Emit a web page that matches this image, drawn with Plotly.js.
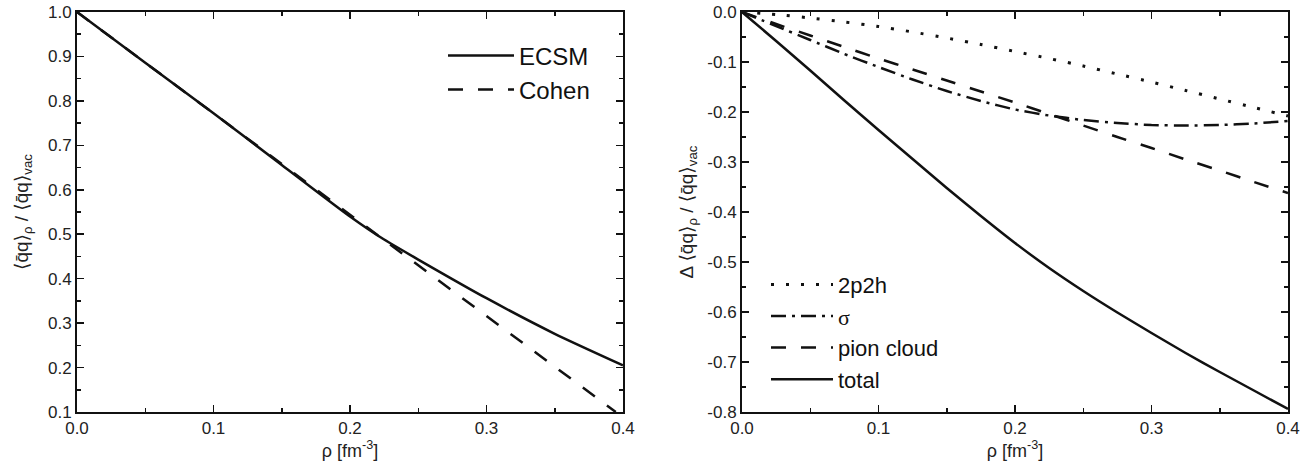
<!DOCTYPE html>
<html><head><meta charset="utf-8">
<script src="https://cdn.plot.ly/plotly-3.0.1.min.js"></script>
<style>html,body{margin:0;padding:0;background:#fff}#chart{width:1314px;height:470px}</style>
</head><body><div id="chart"></div>
<script>
// Left panel: ratio of in-medium to vacuum condensate
const rhoLeft = [0, 0.05, 0.1, 0.15, 0.2, 0.225, 0.25, 0.3, 0.35, 0.4];
const ecsm    = [1.0, 0.886, 0.772, 0.656, 0.54, 0.488, 0.443, 0.356, 0.276, 0.205];
const rhoCohen = [0, 0.1, 0.2, 0.3, 0.3947];
const cohen    = [1.0, 0.772, 0.544, 0.316, 0.1];

// Right panel: contributions to the change of the condensate
const rhoRight = [0, 0.025, 0.05, 0.075, 0.1, 0.125, 0.15, 0.175, 0.2, 0.225, 0.25, 0.275, 0.3, 0.325, 0.35, 0.375, 0.4];
const twoP2h  = [0, -0.005, -0.012, -0.02, -0.029, -0.04, -0.052, -0.065, -0.079, -0.093, -0.108, -0.124, -0.14, -0.157, -0.174, -0.191, -0.208];
const sigmaC  = [0, -0.028, -0.056, -0.084, -0.11, -0.135, -0.158, -0.178, -0.195, -0.207, -0.216, -0.222, -0.226, -0.227, -0.226, -0.223, -0.218];
const pionC   = [0, -0.024, -0.047, -0.07, -0.093, -0.115, -0.137, -0.159, -0.181, -0.204, -0.227, -0.25, -0.272, -0.295, -0.317, -0.34, -0.362];
const totalC  = [0, -0.058, -0.117, -0.177, -0.236, -0.294, -0.352, -0.408, -0.462, -0.512, -0.558, -0.601, -0.642, -0.682, -0.72, -0.757, -0.794];

const xTickVals = [0, 0.1, 0.2, 0.3, 0.4];
const xTickText = ['0.0', '0.1', '0.2', '0.3', '0.4'];
const yLeftTickVals = [0.1, 0.2, 0.3, 0.4, 0.5, 0.6, 0.7, 0.8, 0.9, 1.0];
const yLeftTickText = ['0.1', '0.2', '0.3', '0.4', '0.5', '0.6', '0.7', '0.8', '0.9', '1.0'];
const yRightTickVals = [-0.8, -0.7, -0.6, -0.5, -0.4, -0.3, -0.2, -0.1, 0];
const yRightTickText = ['-0.8', '-0.7', '-0.6', '-0.5', '-0.4', '-0.3', '-0.2', '-0.1', '0.0'];

const FONT = 'Liberation Sans, Arial, DejaVu Sans, sans-serif';
const INK = '#111';
const DOT = '3px,12px';
const DASH = '15px,15px';
const DASHDOT = '15px,6px,3px,6px';

const traces = [
  {x: rhoLeft, y: ecsm, name: 'ECSM', mode: 'lines', line: {color: INK, width: 2.5, shape: 'spline', smoothing: 0.6}, xaxis: 'x', yaxis: 'y', legend: 'legend'},
  {x: rhoCohen, y: cohen, name: 'Cohen', mode: 'lines', line: {color: INK, width: 2.5, dash: DASH}, xaxis: 'x', yaxis: 'y', legend: 'legend'},
  {x: rhoRight, y: twoP2h, name: '2p2h', mode: 'lines', line: {color: INK, width: 3, dash: DOT, shape: 'spline', smoothing: 0.6}, xaxis: 'x2', yaxis: 'y2', legend: 'legend2'},
  {x: rhoRight, y: sigmaC, name: '<span style="font-family:Liberation Serif, serif">σ</span>', mode: 'lines', line: {color: INK, width: 2.5, dash: DASHDOT, shape: 'spline', smoothing: 0.6}, xaxis: 'x2', yaxis: 'y2', legend: 'legend2'},
  {x: rhoRight, y: pionC, name: 'pion cloud', mode: 'lines', line: {color: INK, width: 2.5, dash: DASH, shape: 'spline', smoothing: 0.6}, xaxis: 'x2', yaxis: 'y2', legend: 'legend2'},
  {x: rhoRight, y: totalC, name: 'total', mode: 'lines', line: {color: INK, width: 2.5, shape: 'spline', smoothing: 0.6}, xaxis: 'x2', yaxis: 'y2', legend: 'legend2'}
];

function axisBase() {
  return {
    showline: true, linecolor: INK, linewidth: 2, mirror: 'allticks',
    ticks: 'inside', ticklen: 7, tickwidth: 1.5, tickcolor: INK,
    showgrid: false, zeroline: false,
    tickfont: {family: FONT, size: 17, color: '#222'},
    tickmode: 'array',
    minor: {ticks: 'inside', ticklen: 4, tickwidth: 1.5, tickcolor: INK, dtick: 0.05, showgrid: false}
  };
}

const xTitle = {text: 'ρ [fm<sup>-3</sup>]', font: {family: FONT, size: 18, color: '#222'}, standoff: 4};
const yTitleL = '⟨q̄q⟩<sub>ρ</sub> / ⟨q̄q⟩<sub>vac</sub>';
const yTitleR = 'Δ ⟨q̄q⟩<sub>ρ</sub> / ⟨q̄q⟩<sub>vac</sub>';

const layout = {
  width: 1314, height: 470,
  margin: {l: 0, r: 0, t: 12, b: 58},
  paper_bgcolor: '#fff', plot_bgcolor: '#fff',
  font: {family: FONT, color: '#222'},
  xaxis: Object.assign(axisBase(), {domain: [77/1314, 623/1314], range: [0, 0.4], tickvals: xTickVals, ticktext: xTickText, title: xTitle, anchor: 'y'}),
  yaxis: Object.assign(axisBase(), {domain: [0, 1], range: [0.1, 1.0], tickvals: yLeftTickVals, ticktext: yLeftTickText, anchor: 'x',
    title: {text: yTitleL, font: {family: FONT, size: 19, color: '#222'}}}),
  xaxis2: Object.assign(axisBase(), {domain: [742/1314, 1288/1314], range: [0, 0.4], tickvals: xTickVals, ticktext: xTickText, title: xTitle, anchor: 'y2'}),
  yaxis2: Object.assign(axisBase(), {domain: [0, 1], range: [-0.8, 0], tickvals: yRightTickVals, ticktext: yRightTickText, anchor: 'x2',
    title: {text: yTitleR, font: {family: FONT, size: 19, color: '#222'}}}),
  legend: {x: 443/1314, y: (470-25)/470, xanchor: 'left', yanchor: 'top', bgcolor: 'rgba(0,0,0,0)', borderwidth: 0,
    font: {family: FONT, size: 24, color: '#111'}, itemwidth: 66, tracegroupgap: 0},
  legend2: {x: 766/1314, y: 0.371, xanchor: 'left', yanchor: 'top', bgcolor: 'rgba(0,0,0,0)', borderwidth: 0,
    font: {family: FONT, size: 22, color: '#111'}, itemwidth: 62, tracegroupgap: 0},
  showlegend: true
};

Plotly.newPlot('chart', traces, layout, {displayModeBar: false, staticPlot: true});
</script>
</body></html>
